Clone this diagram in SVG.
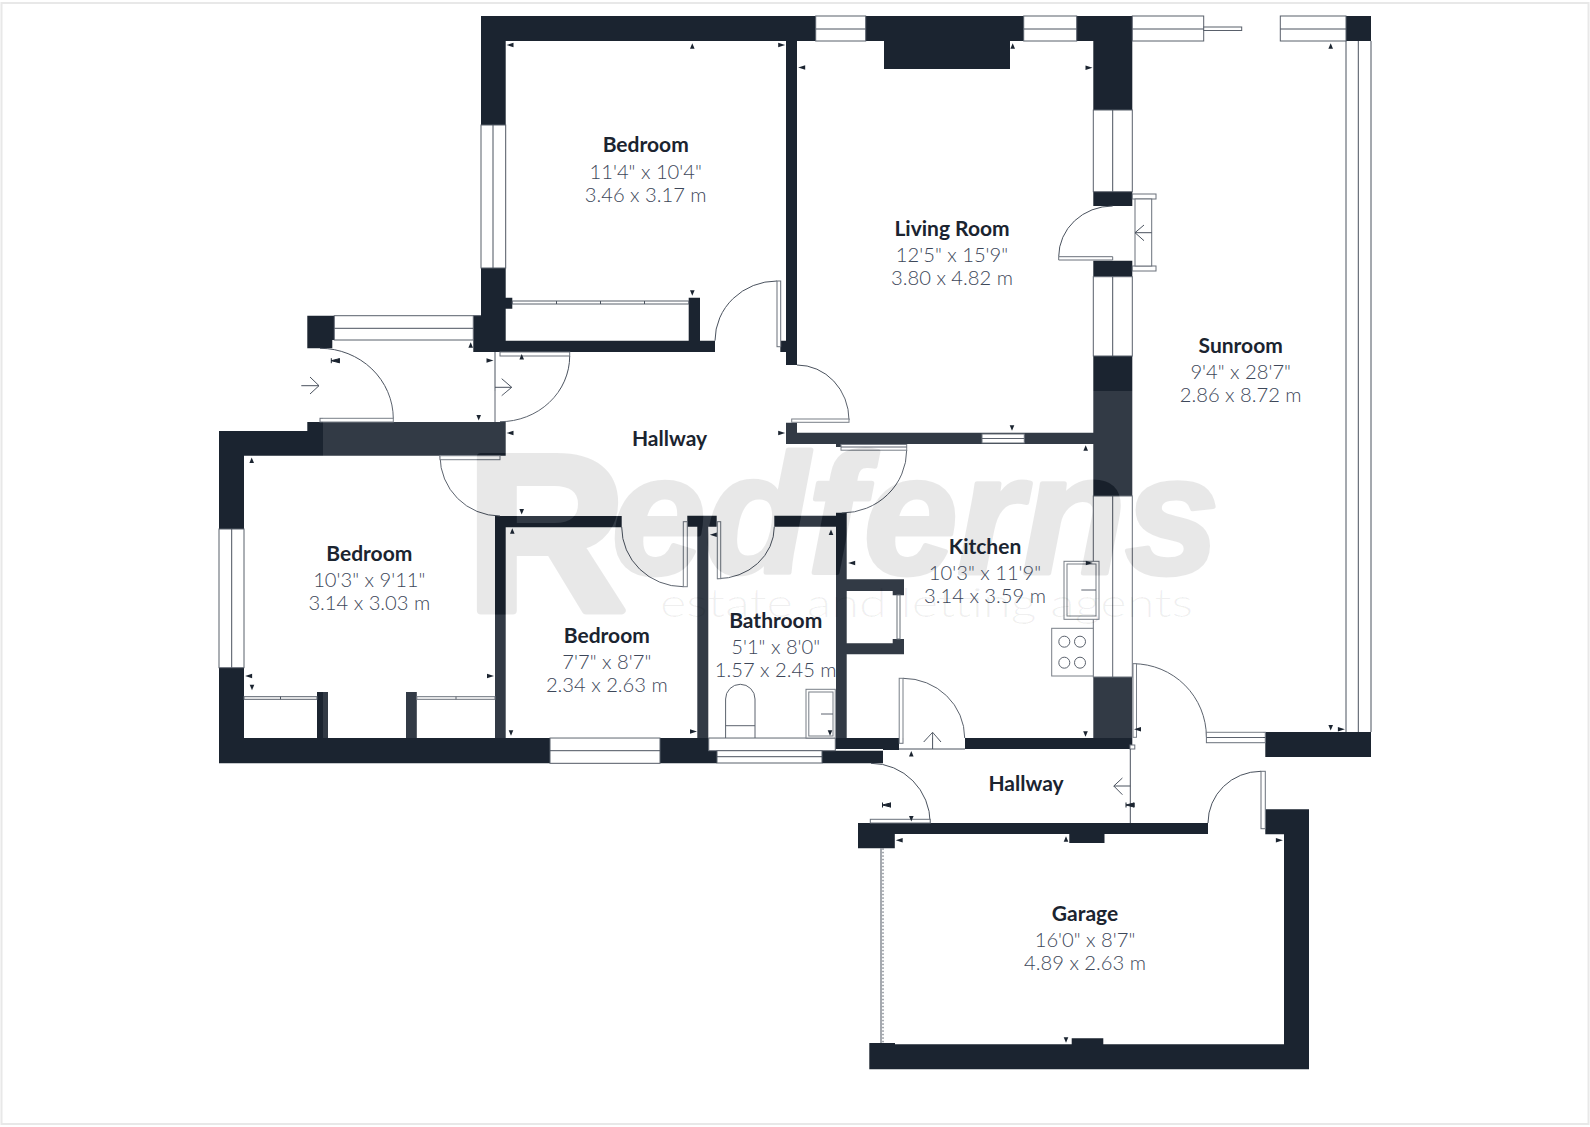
<svg xmlns="http://www.w3.org/2000/svg" width="1590" height="1127" viewBox="0 0 1590 1127">
<style>
.wall{fill:#1b2430}
.win{fill:#fff;stroke:#59606b;stroke-width:1}
.ln{fill:none;stroke:#4a525e;stroke-width:1}
.lf{fill:#fff;stroke:#6a717b;stroke-width:1}
.tri{fill:#1b2430}
.name{font-family:"Lato","Liberation Sans",sans-serif;font-weight:700;font-size:21px;fill:#1b2430;text-anchor:middle}
.dim{font-family:"Lato","Liberation Sans",sans-serif;font-weight:300;font-size:20.2px;fill:#3d4759;text-anchor:middle}
.wm{font-family:"Liberation Sans",sans-serif;font-weight:700;fill:#000;stroke:#000;stroke-linejoin:round;opacity:.085}
</style>
<defs>
<path id="tu" d="M-2.3 2.8L0 -2.8L2.3 2.8Z"/>
<path id="td" d="M-2.3 -2.8L0 2.8L2.3 -2.8Z"/>
<path id="tl" d="M-3.5 0L3.5 -2.2V2.2Z"/>
<path id="tr" d="M3.5 0L-3.5 -2.2V2.2Z"/>
<path id="ti" d="M-4 -2.5V2.5M4 -2.5V2.5M-4 0L4 -2V2Z" stroke="#1b2430" stroke-width="1"/>
<mask id="cut" maskUnits="userSpaceOnUse" x="0" y="0" width="1590" height="1127">
<rect width="1590" height="1127" fill="#fff"/>
<text x="466" y="610" font-family="Liberation Sans,sans-serif" font-weight="700" font-size="222" fill="#000" stroke="#000" stroke-width="8" stroke-linejoin="round">R</text>
<text x="612" y="573" font-family="Liberation Sans,sans-serif" font-weight="700" font-style="italic" font-size="168" fill="#000" stroke="#000" stroke-width="5" stroke-linejoin="round">edferns</text>
</mask>
</defs>
<rect x="1.5" y="3" width="1587" height="1121" fill="#fff" stroke="#e8e8e8" stroke-width="2"/>
<g id="walls">
<path class="wall" d="M481 16H1132.3V41H481Z M481 16H505.7V352H481Z M473.3 315.7H505.7V352H473.3Z M473.3 340.7H715V352H473.3Z M505.7 297.7H512.3V308.7H505.7Z M688.7 297.7H700V341H688.7Z M786 41H797V365H786Z M780.3 340.7H786V352H780.3Z M884 41H1010V69H884Z M1093.3 41H1132.3V110H1093.3Z M1093.3 191.7H1132.3V206H1093.3Z M1093.3 260.7H1132.3V276.7H1093.3Z M1093.3 356H1132.3V496H1093.3Z M1093.3 677H1132.3V749H1093.3Z M1346 16H1371V41H1346Z M1265.3 732H1371V757H1265.3Z M786 422.7H797V444H786Z M786 432.7H1093.3V444H786Z M836 444H846.7V447H836Z M307.3 315.7H334.3V340H307.3Z M307.3 340H332.3V348.3H307.3Z M307.3 422H505.7V455.7H307.3Z M219 431H307.3V455.7H219Z M219 431H244V529H219Z M219 667.7H244V763.3H219Z M219 738H708.7V763.3H219Z M708.7 750.7H717V763.3H708.7Z M822 750.7H883V763.3H822Z M835.3 738H899V749H835.3Z M965 738H1132.3V749H965Z M495 516H505.7V738H495Z M495 516H621.7V527.3H495Z M687.3 515.7H716.7V526.7H687.3Z M697.3 526.7H708.3V738H697.3Z M774.3 515.7H836V526.7H774.3Z M836 512.7H846.7V738H836Z M846.7 579.3H904V591H846.7Z M892.7 591H904V595.3H892.7Z M892.7 639H904V643.3H892.7Z M846.7 643.3H904V654.3H846.7Z M317 692H328V738H317Z M406 692H416.8V738H406Z M858 823H1208V834H858Z M858 823H894.8V848.3H858Z M1069.3 834H1104.5V843H1069.3Z M1265.3 809.3H1309V1069.3H869.3V1043H895V1044.3H1284V834.3H1265.3Z M1071.7 1038.3H1103.3V1044.5H1071.7Z M883 749H899V750H883Z"/>
</g>
<g id="windows">
<rect class="win" x="815.7" y="16" width="50" height="25"/><path class="ln" d="M815.7 29H865.7"/>
<rect class="win" x="1023.7" y="16" width="53" height="25"/><path class="ln" d="M1023.7 29H1076.7"/>
<rect class="win" x="1132.3" y="16" width="71.4" height="25"/><path class="ln" d="M1132.3 29H1203.7"/>
<rect class="win" x="1203.7" y="27" width="38" height="3.5"/>
<rect class="win" x="1280.3" y="16" width="65.7" height="25"/><path class="ln" d="M1280.3 29H1346"/>
<rect class="win" x="481" y="125" width="24.7" height="143"/><path class="ln" d="M493 125V268"/>
<rect class="win" x="1093.3" y="110" width="39" height="81.7"/><path class="ln" d="M1112.7 110V191.7"/>
<rect class="win" x="1093.3" y="276.7" width="39" height="79.3"/><path class="ln" d="M1112.7 276.7V356"/>
<rect class="win" x="1093.3" y="496" width="39" height="181"/><path class="ln" d="M1112.7 496V677"/>
<rect class="win" x="334.3" y="315.7" width="139" height="24.3"/><path class="ln" d="M334.3 328.3H473.3M473.3 315.7H481"/>
<rect class="win" x="219" y="529" width="25" height="138.7"/><path class="ln" d="M231.7 529V667.7"/>
<rect class="win" x="550" y="738" width="110" height="25.3"/><path class="ln" d="M550 750.7H660"/>
<rect class="win" x="708.7" y="738" width="126.6" height="12.7"/>
<rect class="win" x="717" y="750.7" width="105" height="12.3"/><path class="ln" d="M717 756.7H822"/>
<rect class="win" x="982" y="434" width="42.3" height="9"/><path class="ln" d="M982 438.5H1024.3"/>
<path class="ln" d="M1346 41V732M1358.3 41V732M1371 41V732"/>
<rect class="win" x="512.3" y="301" width="176.4" height="3"/>
<path class="ln" d="M556.5 301V304M600.5 301V304M644.5 301V304"/>
<rect class="win" x="244" y="696.7" width="73" height="2.6"/><path class="ln" d="M280.5 696.7V699.3"/>
<rect class="win" x="416.8" y="696.7" width="78.2" height="2.6"/><path class="ln" d="M456 696.7V699.3"/>
<rect class="win" x="897" y="595" width="3" height="44"/>
</g>
<g id="doors">
<path class="ln" d="M715 340.7A62 59.7 0 0 1 777 281"/><rect class="lf" x="777" y="281" width="3.7" height="65.7"/>
<path class="ln" d="M797 365A52 55 0 0 1 849 420"/><rect class="lf" x="791.7" y="419" width="57.3" height="3.3"/>
<path class="ln" d="M906.7 450A65 63 0 0 1 841.7 513"/><rect class="lf" x="841" y="444.5" width="65.7" height="5.7"/><path class="ln" d="M841 447H906.7"/>
<path class="ln" d="M1112.7 206A54 50.7 0 0 0 1058.7 256.7"/><path class="lf" d="M1058.7 256.7H1112.7V260H1058.7Z"/>
<rect class="lf" x="1132.3" y="194" width="23.7" height="5"/><rect class="lf" x="1132.3" y="266" width="23.7" height="5"/>
<rect class="lf" x="1135" y="199" width="16.7" height="67"/><path class="ln" d="M1135 232.7H1151.7M1144 225L1135 232.7L1144 240.7"/>
<path class="ln" d="M320 348.3A73.3 70.4 0 0 1 393.3 418.7"/><rect class="lf" x="320" y="418.3" width="73.3" height="3.7"/>
<path class="ln" d="M301.3 385.7H319M310 377L319 385.7L310 394"/>
<path class="ln" d="M495 352V422M495 387.3H511.7M501.7 378.7L511.7 387.3L501.7 395.7"/>
<path class="ln" d="M569.7 356A69.7 65.7 0 0 1 500 421.7"/><rect class="lf" x="500" y="352" width="69.7" height="4"/>
<path class="ln" d="M500 516A60 60 0 0 1 440 456"/><rect class="lf" x="440" y="455.7" width="60" height="4"/>
<path class="ln" d="M621.7 527A61.6 59.7 0 0 0 683.3 586.7"/><rect class="lf" x="683.3" y="521.7" width="4" height="65"/>
<path class="ln" d="M774.3 526.7A57 52 0 0 1 717.3 578.7"/><rect class="lf" x="717.3" y="521.7" width="3.4" height="57"/>
<path class="ln" d="M903 678.3A61.7 59.7 0 0 1 964.7 738"/><rect class="lf" x="899.2" y="678.3" width="3.8" height="65"/>
<path class="ln" d="M899 749H965M932.6 749V732.3M923.7 742L932.6 732.3L941 742"/>
<path class="ln" d="M871 763.3A59.2 59.7 0 0 1 930.2 823"/><rect class="lf" x="870.3" y="819.3" width="59.9" height="3.7"/>
<path class="ln" d="M1133 663.7A73.4 73.3 0 0 1 1206.4 737"/><rect class="lf" x="1133" y="663.7" width="3.5" height="73.6"/>
<rect class="lf" x="1206.4" y="732.3" width="58.9" height="10.4"/><path class="ln" d="M1206.4 737.5H1265.3"/>
<rect class="lf" x="1130" y="745" width="4.8" height="4"/>
<path class="ln" d="M1130.3 749V823M1130.3 786H1113.8M1122.4 778L1113.8 786L1122.4 794.7"/>
<path class="ln" d="M1208 823A53 51.7 0 0 1 1261 771.3"/><rect class="lf" x="1261" y="771.3" width="4.3" height="57.4"/>
<path class="ln" d="M881 848.3V1043" stroke-width="1.2"/><path class="ln" d="M883 848.3V1043" stroke-dasharray="1.5 2"/>
</g>
<g id="fixtures">
<rect class="lf" x="1064" y="561.3" width="35" height="58"/><rect class="lf" x="1067" y="564" width="29" height="52"/><path class="ln" d="M1081.3 590H1096"/>
<rect class="lf" x="1051.7" y="628.3" width="41.6" height="47.7"/>
<circle class="ln" cx="1064.3" cy="641.7" r="5.5"/><circle class="ln" cx="1080" cy="641.7" r="5.5"/><circle class="ln" cx="1064.3" cy="662.7" r="5.5"/><circle class="ln" cx="1080" cy="662.7" r="5.5"/>
<path class="ln" d="M725.6 738V699A14.7 14.7 0 0 1 755 699V738M725.6 725.7H755"/>
<rect class="lf" x="806" y="689.3" width="29.3" height="48.7"/><rect class="lf" x="808.8" y="692" width="24.2" height="44"/><path class="ln" d="M821 714H833"/>
</g>
<g id="watermark">
<rect x="323" y="391" width="940" height="347" fill="#fff" fill-opacity=".1" mask="url(#cut)"/>
<text class="wm" x="466" y="610" font-size="222" stroke-width="8">R</text>
<text class="wm" x="612" y="573" font-style="italic" font-size="168" stroke-width="5">edferns</text>
<text x="660" y="617" textLength="533" lengthAdjust="spacingAndGlyphs" font-family="Lato,sans-serif" font-weight="300" font-size="40" fill="#000" fill-opacity=".06">estate and letting agents</text>
</g>
<g id="markers" class="tri">
<use href="#tl" x="510" y="45"/><use href="#tu" x="692.3" y="46"/><use href="#tr" x="781.7" y="45"/><use href="#tl" x="801.7" y="67.5"/><use href="#td" x="692.3" y="293"/><use href="#tu" x="521.7" y="356.7"/><use href="#tr" x="490" y="360.5"/>
<use href="#tu" x="1012.7" y="46"/><use href="#tr" x="1089" y="67.7"/><use href="#tu" x="1330.7" y="46"/>
<use href="#tu" x="470.7" y="345"/><use href="#ti" x="335.3" y="360.7"/><use href="#td" x="478.7" y="417.7"/><use href="#tl" x="510" y="433"/><use href="#tu" x="251.7" y="460.3"/><use href="#td" x="521.7" y="511.7"/><use href="#tu" x="512.3" y="531"/>
<use href="#tr" x="781.7" y="433"/><use href="#td" x="1012" y="428"/><use href="#tu" x="1085.7" y="448"/><use href="#tu" x="831" y="532.3"/><use href="#tl" x="713.3" y="534.7"/><use href="#tl" x="851.7" y="563"/><use href="#tr" x="1089.3" y="563"/>
<use href="#tl" x="248.6" y="676"/><use href="#td" x="252" y="687.5"/><use href="#tr" x="490.5" y="676"/><use href="#td" x="511" y="733"/><use href="#tr" x="693.5" y="731.5"/><use href="#td" x="830" y="733"/>
<use href="#tu" x="911.3" y="753.7"/><use href="#td" x="1085.5" y="734"/><use href="#tl" x="1137.5" y="729.3"/><use href="#ti" x="886.5" y="805"/><use href="#ti" x="1130" y="805"/><use href="#td" x="911.3" y="818.7"/><use href="#tl" x="899.2" y="840.3"/><use href="#tu" x="1066" y="839"/><use href="#tr" x="1279.4" y="840.3"/><use href="#td" x="1330.7" y="727.7"/><use href="#tr" x="1341.4" y="729.3"/><use href="#td" x="1066" y="1040"/>
</g>
<g id="room-bedroom-1"><text class="name" x="645.7" y="151.7">Bedroom</text><text class="dim" x="645.7" y="178.5">11'4" x 10'4"</text><text class="dim" x="645.7" y="201.5">3.46 x 3.17 m</text></g>
<g id="room-living"><text class="name" x="952" y="236">Living Room</text><text class="dim" x="952" y="262.2">12'5" x 15'9"</text><text class="dim" x="952" y="284.7">3.80 x 4.82 m</text></g>
<g id="room-sunroom"><text class="name" x="1240.7" y="352.7">Sunroom</text><text class="dim" x="1240.7" y="378.9">9'4" x 28'7"</text><text class="dim" x="1240.7" y="401.7">2.86 x 8.72 m</text></g>
<g id="room-hallway-1"><text class="name" x="669.5" y="445.7">Hallway</text></g>
<g id="room-bedroom-2"><text class="name" x="369.3" y="560.7">Bedroom</text><text class="dim" x="369.3" y="587.2">10'3" x 9'11"</text><text class="dim" x="369.3" y="610">3.14 x 3.03 m</text></g>
<g id="room-kitchen"><text class="name" x="985" y="553.8">Kitchen</text><text class="dim" x="985" y="580.2">10'3" x 11'9"</text><text class="dim" x="985" y="603">3.14 x 3.59 m</text></g>
<g id="room-bathroom"><text class="name" x="775.7" y="628">Bathroom</text><text class="dim" x="775.7" y="653.8">5'1" x 8'0"</text><text class="dim" x="775.7" y="676.5">1.57 x 2.45 m</text></g>
<g id="room-bedroom-3"><text class="name" x="606.8" y="642.7">Bedroom</text><text class="dim" x="606.8" y="668.5">7'7" x 8'7"</text><text class="dim" x="606.8" y="691.5">2.34 x 2.63 m</text></g>
<g id="room-hallway-2"><text class="name" x="1026" y="790.7">Hallway</text></g>
<g id="room-garage"><text class="name" x="1085" y="920.5">Garage</text><text class="dim" x="1085" y="947.2">16'0" x 8'7"</text><text class="dim" x="1085" y="970">4.89 x 2.63 m</text></g>
</svg>
